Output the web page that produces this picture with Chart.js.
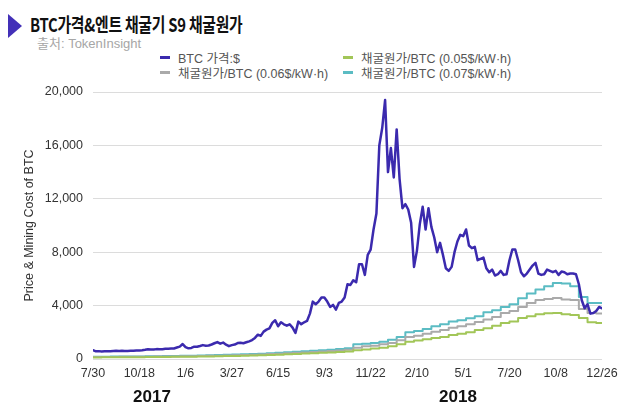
<!DOCTYPE html>
<html>
<head>
<meta charset="utf-8">
<script src="https://cdn.jsdelivr.net/npm/chart.js@4.4.1/dist/chart.umd.min.js"></script>
<style>
  html, body { margin: 0; padding: 0; background: #fff; }
  #wrap { position: relative; width: 630px; height: 417px; overflow: hidden;
          font-family: "Liberation Sans", "Noto Sans CJK KR", sans-serif; }
  #c { position: absolute; left: 0; top: 0; }
  .mark { position: absolute; left: 8px; top: 14px; width: 0; height: 0;
          border-top: 12px solid transparent; border-bottom: 12px solid transparent;
          border-left: 14px solid #4330b8; }
  .title { position: absolute; left: 30px; top: 10px; font-size: 19px; font-weight: bold;
           color: #111; font-family: "Noto Sans CJK KR", sans-serif; letter-spacing: -0.3px;
           transform: scaleX(0.78); transform-origin: left top; white-space: nowrap; }
  .source { position: absolute; left: 37px; top: 33px; font-size: 13px; color: #a6a6a6; }
  #legend { position: absolute; left: 160px; top: 50px; display: grid;
            grid-template-columns: 183px auto; row-gap: 0px; font-size: 12.5px; color: #555; }
  #legend .item { display: flex; align-items: center; height: 15px; white-space: nowrap; }
  #legend .sw { width: 10px; height: 3px; margin-right: 8px; }
  .year { position: absolute; top: 387px; font-size: 17px; font-weight: bold; color: #111;
          transform: translateX(-50%); }
</style>
</head>
<body>
<div id="wrap">
  <div class="mark"></div>
  <div class="title">BTC가격&amp;엔트 채굴기 S9 채굴원가</div>
  <div class="source">출처: TokenInsight</div>
  <div id="legend"></div>
  <canvas id="c" width="630" height="417"></canvas>
  <div class="year" style="left:152px">2017</div>
  <div class="year" style="left:458px">2018</div>
</div>
<script>
// x axis: days since 2016-07-30, a tick every 80 days
var tickLabels = ['7/30', '10/18', '1/6', '3/27', '6/15', '9/3', '11/22', '2/10', '5/1', '7/20', '10/8', '12/26'];
var tickStepDays = 80;

// BTC price ($), one value every 5 days from 2016-07-30
var btcStepDays = 5;
var btcPrice = [
  655, 575, 590, 570, 575, 580, 575, 600, 625, 608,
  610, 600, 605, 612, 618, 638, 638, 655, 690, 735,
  710, 705, 740, 738, 730, 760, 765, 780, 790, 860,
  930, 1120, 890, 800, 830, 920, 915, 970, 1040, 1000,
  1010, 1085, 1180, 1270, 1150, 1230, 1070, 960, 1040, 1080,
  1190, 1210, 1180, 1250, 1320, 1420, 1580, 1820, 1730, 2050,
  2200, 2300, 2700, 2900, 2450, 2750, 2600, 2500, 2600, 2350,
  1950, 2800, 2600, 2750, 2850, 3400, 4300, 4100, 4300, 4600,
  4600, 4300, 3900, 4050, 3700, 4200, 4300, 4600, 5600, 5550,
  5900, 5750, 7100, 7100, 6300, 7800, 8200, 9700, 10900, 16000,
  17300, 19400, 14000, 15800, 13600, 17200, 13500, 11300, 11600, 11200,
  10200, 6900, 8100, 10100, 11400, 9700, 11300, 9900, 9100, 8000,
  8700, 7800, 6800, 6600, 6900, 8000, 8800, 9300, 9200, 9700,
  8500, 8300, 8400, 7400, 7500, 7600, 6800, 6500, 6700, 6250,
  6350, 6600, 6300, 6350, 7400, 8200, 8200, 7400, 6500, 6200,
  6400, 6700, 7000, 7200, 6400, 6300, 6350, 6700, 6600, 6500,
  6600, 6300, 6550, 6500, 6350, 6400, 6400, 6350, 5600, 4400,
  3800, 4100, 3400, 3450, 3600, 3900, 3800
];

// mining cost per BTC ($), one value every 15 days, held as steps
var costStepDays = 15;
var cost005 = [
  120, 125, 128, 132, 135, 138, 142, 148, 155, 162,
  168, 176, 186, 196, 206, 218, 232, 246, 260, 280,
  300, 322, 350, 378, 405, 435, 462, 490, 525, 560,
  650, 720, 780, 850, 950, 1100, 1300, 1380, 1480, 1580,
  1650, 1800, 1900, 2000, 2170, 2300, 2500, 2700, 2800, 3070,
  3200, 3350, 3420, 3450, 3350, 3300, 3070, 2750, 2700, 2700
];
var cost006 = [
  145, 150, 155, 160, 163, 167, 172, 180, 188, 196,
  205, 214, 226, 240, 252, 265, 282, 300, 318, 342,
  368, 394, 428, 462, 496, 530, 565, 600, 640, 685,
  850, 950, 1000, 1100, 1200, 1400, 1650, 1750, 1900, 2050,
  2170, 2350, 2450, 2600, 2770, 2950, 3150, 3450, 3600, 3900,
  4200, 4420, 4500, 4570, 4450, 4420, 3750, 3450, 3400, 3400
];
var cost007 = [
  170, 175, 180, 185, 190, 195, 200, 210, 220, 230,
  240, 250, 265, 280, 295, 310, 330, 350, 370, 400,
  430, 460, 500, 540, 580, 620, 660, 700, 750, 800,
  1100, 1150, 1200, 1300, 1450, 1650, 2000, 2100, 2250, 2450,
  2600, 2800, 2900, 3050, 3200, 3500, 3650, 3900, 4100, 4550,
  4900, 5200, 5450, 5700, 5650, 5450, 4650, 4200, 4200, 4200
];

function toPoints(values, step) {
  return values.map(function (v, i) { return { x: i * step, y: v }; });
}

var ctx = document.getElementById('c');
var chart = new Chart(ctx, {
  type: 'line',
  data: {
    datasets: [
      { label: 'BTC 가격:$', data: toPoints(btcPrice, btcStepDays),
        borderColor: '#3b2aae', borderWidth: 2.5 },
      { label: '채굴원가/BTC (0.05$/kW·h)', data: toPoints(cost005, costStepDays),
        borderColor: '#a2c658', borderWidth: 2, stepped: true },
      { label: '채굴원가/BTC (0.06$/kW·h)', data: toPoints(cost006, costStepDays),
        borderColor: '#aaaaaa', borderWidth: 2, stepped: true },
      { label: '채굴원가/BTC (0.07$/kW·h)', data: toPoints(cost007, costStepDays),
        borderColor: '#5bbcc3', borderWidth: 2, stepped: true }
    ]
  },
  options: {
    responsive: false,
    animation: false,
    devicePixelRatio: 1,
    layout: { padding: { left: 22, top: 92, right: 28, bottom: 0 } },
    elements: {
      point: { radius: 0 },
      line: { tension: 0, borderJoinStyle: 'round', borderCapStyle: 'round' }
    },
    plugins: { legend: { display: false }, tooltip: { enabled: false } },
    scales: {
      x: {
        type: 'linear', min: 0, max: 880,
        grid: { display: false, drawTicks: false },
        border: { display: false },
        ticks: {
          stepSize: tickStepDays, autoSkip: false, maxRotation: 0, padding: 7,
          color: '#333', font: { family: 'Liberation Sans', size: 12.5 },
          callback: function (v) { return tickLabels[Math.round(v / tickStepDays)]; }
        },
        afterFit: function (s) { s.height = 58; }
      },
      y: {
        min: 0, max: 20000,
        grid: { color: '#dcdcdc', drawTicks: false },
        border: { display: false },
        ticks: {
          stepSize: 4000, padding: 10, color: '#333',
          font: { family: 'Liberation Sans', size: 12.5 },
          callback: function (v) { return v.toLocaleString('en-US'); }
        },
        title: {
          display: true, text: 'Price & Mining Cost of BTC', color: '#333',
          font: { family: 'Liberation Sans', size: 12.5 }, padding: 0
        },
        afterFit: function (s) { s.width = 71; }
      }
    }
  }
});

// two-column legend laid out like the original
var legend = document.getElementById('legend');
[0, 1, 2, 3].forEach(function (i) {
  var ds = chart.data.datasets[i];
  var item = document.createElement('div');
  item.className = 'item';
  item.innerHTML = '<span class="sw" style="background:' + ds.borderColor + '"></span>' + ds.label;
  legend.appendChild(item);
});
</script>
</body>
</html>
